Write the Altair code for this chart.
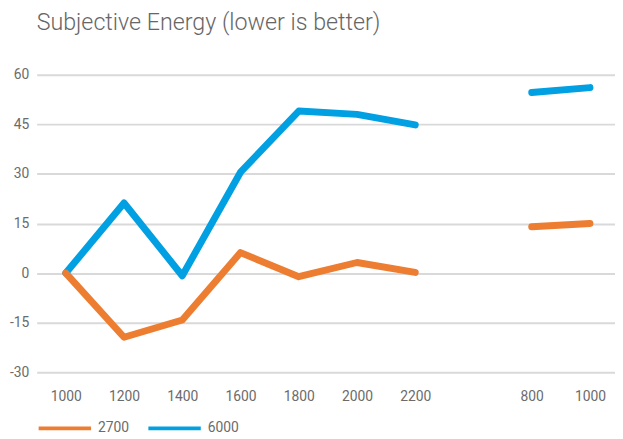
import json
import altair as alt
import pandas as pd

categories = ["1000", "1200", "1400", "1600", "1800", "2000", "2200", "", "800", "1000"]
series_names = ["2700", "6000"]
values_2700 = [0, -19.4, -14.2, 6.2, -1.1, 3.2, 0.2, None, 14, 15]
values_6000 = [0, 21.2, -0.8, 30.5, 49, 48, 44.8, None, 54.6, 56.1]
y_ticks = [-30, -15, 0, 15, 30, 45, 60]
colors = ["#ED7D31", "#00A0E3"]

rows = []
for name, vals in zip(series_names, [values_2700, values_6000]):
    seg = 0
    for i, v in enumerate(vals):
        if v is None:
            seg += 1
            continue
        rows.append({"idx": i, "value": v, "series": name, "segment": seg})
df = pd.DataFrame(rows)

label_expr = json.dumps(categories) + "[datum.value]"
tick_idx = [i for i, c in enumerate(categories) if c != ""]

FONT = "Roboto"
LABEL_COLOR = "#6b6b6b"

x_enc = alt.X(
    "idx:Q",
    scale=alt.Scale(domain=[-0.5, 9.43], nice=False, zero=False),
    axis=alt.Axis(
        values=tick_idx, labelExpr=label_expr, title=None, grid=False,
        domain=False, ticks=False, labelPadding=18, labelFontSize=14,
        labelColor=LABEL_COLOR, labelFont=FONT,
    ),
)
y_enc = alt.Y(
    "value:Q",
    scale=alt.Scale(domain=[-30, 60], nice=False, zero=False),
    axis=alt.Axis(
        values=y_ticks, labelExpr="datum.value + ''", title=None, domain=False,
        ticks=False, gridColor="#D9D9D9", gridWidth=2, labelPadding=8,
        labelFontSize=14, labelColor=LABEL_COLOR, labelFont=FONT,
    ),
)
color_enc = alt.Color(
    "series:N",
    scale=alt.Scale(domain=series_names, range=colors),
    legend=alt.Legend(
        title=None, orient="none", direction="horizontal", legendX=0, legendY=329,
        symbolType="stroke", symbolSize=2809, symbolStrokeWidth=4,
        labelFontSize=14, labelColor=LABEL_COLOR, labelFont=FONT,
        labelOffset=5, columnPadding=11, padding=0,
    ),
)

base = alt.Chart(df).mark_line(strokeWidth=7, strokeCap="round", strokeJoin="round")

blue = base.transform_filter(alt.datum.series == "6000").encode(
    x=x_enc, y=y_enc, color=color_enc, detail="segment:N"
)
orange = base.transform_filter(alt.datum.series == "2700").encode(
    x=x_enc, y=y_enc, color=color_enc, detail="segment:N"
)

chart = alt.layer(blue, orange).properties(
    width=585,
    height=301,
    padding={"left": 29, "top": 65, "right": 0, "bottom": 62},
    autosize=alt.AutoSizeParams(type="none"),
    title=alt.TitleParams(
        "Subjective Energy (lower is better)", anchor="start", frame="group",
        fontSize=23.5, font="Roboto", fontWeight=300, color="#666666",
        baseline="alphabetic", offset=15,
    ),
).configure_view(stroke=None)

chart.save("out.html", embed_options={"renderer": "svg", "actions": False})
